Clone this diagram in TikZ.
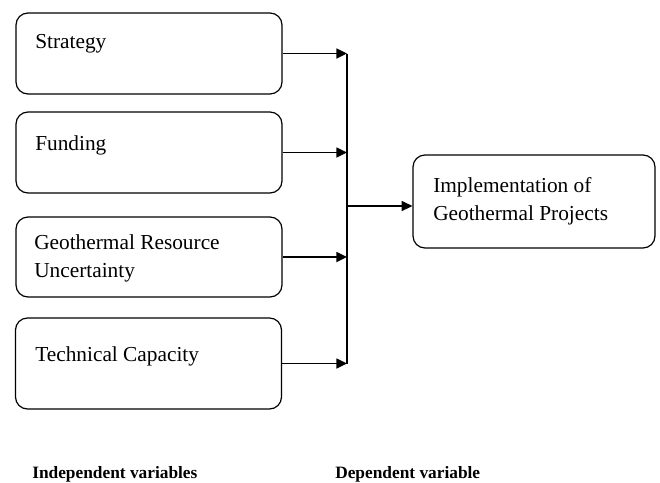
\documentclass[tikz,border=0pt]{standalone}
\usepackage{fontspec}
\setmainfont{Liberation Serif}
\usetikzlibrary{arrows.meta}
\tikzset{
  var/.style={draw, line width=0.9pt, rounded corners=9pt, inner sep=0pt},
  lbl/.style={anchor=north west, inner sep=0pt, align=left, font=\fontsize{16}{21.5}\selectfont},
  head/.style={anchor=north west, inner sep=0pt, font=\fontsize{13}{15}\selectfont\bfseries},
  tip/.style={-{Triangle[length=8pt,width=7.5pt]}, line width=1.1pt}
}

\begin{document}
\begin{tikzpicture}[x=0.75pt, y=-0.75pt]
            \useasboundingbox (0,0) rectangle (660,482);
            \node[var, minimum width=199.5pt, minimum height=60.75pt] (S) at (149,53.5) {};
            \node[var, minimum width=199.5pt, minimum height=60.75pt] (F) at (149,152.5) {};
            \node[var, minimum width=199.5pt, minimum height=60pt] (G) at (149,257) {};
            \node[var, minimum width=199.5pt, minimum height=68.25pt] (T) at (148.5,363.5) {};
            \node[var, minimum width=181.5pt, minimum height=69.75pt] (D) at (534,201.5) {};
            \node[lbl] (s) at (35,34) {Strategy};
            \node[lbl] (f) at (35,135) {Funding};
            \node[lbl] (g) at (34,234) {Geothermal Resource\\Uncertainty};
            \node[lbl] (t) at (35,346) {Technical Capacity};
            \node[lbl] (d) at (433,177) {Implementation of\\Geothermal Projects};
            \coordinate (J) at (347,206);
            \draw[tip] (S.east) -- (S.east -| J);
            \draw[tip] (F.east) -- (F.east -| J);
            \draw[tip] (G.east) -- (G.east -| J);
            \draw[tip] (T.east) -- (T.east -| J);
            \draw[line width=1.1pt] (S.east -| J) -- (T.east -| J);
            \draw[tip] (J) -- (D.west |- J);
            \node[head] (iv) at (32,466) {Independent variables};
            \node[head] (dv) at (335,466) {Dependent variable};
        \end{tikzpicture}
\end{document}
